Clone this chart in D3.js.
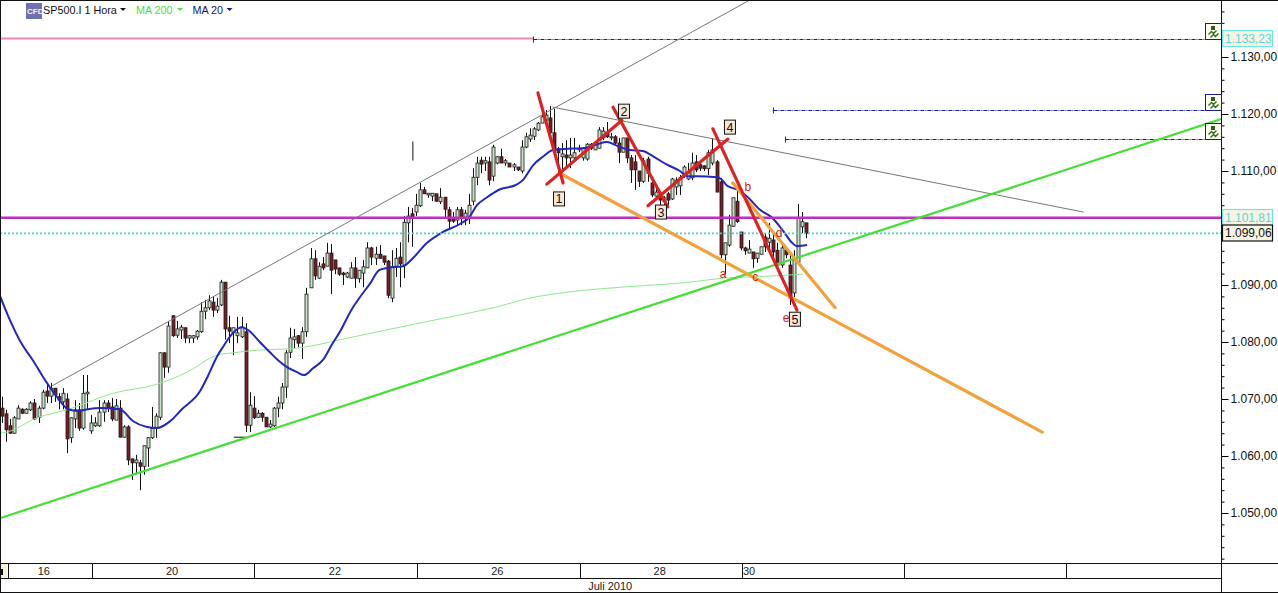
<!DOCTYPE html>
<html><head><meta charset="utf-8">
<script src="https://cdn.jsdelivr.net/npm/d3@7"></script>
<style>
html,body{margin:0;padding:0;background:#fff;overflow:hidden}
svg{display:block}
text{font-family:"Liberation Sans",Arial,sans-serif}
</style></head><body><div id="c"></div>
<script>
// ---------- data: hourly candles ----------
const opens=[
1068.4,1067.4,1065.3,1064,1066.5,1068.2,1067.5,1068.1,1069.3,1066.8,
1068.4,1071.4,1070.5,1071.9,1070.4,1069.5,1070,1063.2,1066.5,1068.1,
1064.9,1070.9,1064.4,1065.3,1065.3,1067.7,1069.3,1068.6,1066.3,1068.4,
1063.3,1065.1,1059.5,1058.8,1058.8,1058.2,1061.4,1063.2,1064.9,1066.8,
1078.1,1075.6,1084.6,1081.2,1082.1,1082.5,1080.7,1080.7,1080.9,1081.8,
1085.4,1086,1087,1085.6,1086.5,1090.5,1082.5,1081.6,1081.1,1080.9,
1081.8,1065.4,1068.4,1066.8,1067.5,1066.8,1065.1,1065.3,1068.4,1069.3,
1072.1,1078.2,1080.4,1081.1,1079.8,1081.8,1089.5,1094.6,1091.2,1093.7,
1093.3,1095.6,1094.4,1093,1092.1,1091.4,1091.2,1093,1091.1,1092.1,
1093,1096.5,1094.7,1095.4,1095.1,1094.2,1087.7,1093.3,1094.9,1093.5,
1100.9,1102.5,1102.8,1103.9,1106.7,1105.8,1105.6,1106,1104.6,1105.4,
1103.2,1101.8,1101.4,1103.2,1101.9,1101.8,1104.7,1108.9,1111.9,1111.4,
1111.6,1109.1,1111.4,1112.5,1111.4,1111.4,1110.7,1110.7,1110,1114.2,
1115.6,1116.1,1117.2,1118.4,1118.9,1119.3,1116.7,1113.9,1112.5,1112.8,
1112.3,1112.3,1113.7,1112.3,1112.1,1114.7,1113.7,1114,1115.8,1116.7,
1115.8,1116,1114.9,1113.3,1115.8,1112.3,1111.6,1110,1108.2,1112.1,
1107.9,1105.6,1105.8,1104.6,1106,1105.1,1107.2,1107.4,1109.6,1108.6,
1108.8,1111.6,1111.1,1110.9,1110.4,1111.4,1111.6,1108.1,1095.3,1097,
1100.3,1104.7,1099.3,1096.5,1095.6,1095.8,1094.7,1095.4,1098.4,1097.5,
1097.9,1096.1,1093.5,1096.1,1093.5,1088.6,1094,1100.2,1100.9];
const closes=[
1067,1064.6,1064,1066.7,1068.4,1067.5,1068.2,1069.3,1066.5,1068.4,
1071.2,1070.5,1071.9,1070.7,1069.8,1071,1063,1066.7,1068.1,1064.9,
1071,1071.2,1065.8,1065.8,1067.7,1069.3,1068.4,1066.5,1068.8,1063.3,
1065.1,1059.3,1058.8,1059.3,1058.2,1061.8,1063.2,1064.9,1067,1078.1,
1075.6,1082.8,1081.1,1082.3,1082.6,1080.7,1081.1,1081.1,1081.9,1085.4,
1086,1087.2,1085.6,1086.3,1090.5,1082.3,1081.9,1082.5,1081.6,1082.6,
1065.4,1068.9,1066.7,1067.5,1066.8,1065.1,1065.6,1068.4,1069.3,1072.1,
1078.1,1080.7,1080.9,1079.8,1081.8,1088.4,1094.6,1091.6,1093.3,1093,
1095.6,1092.6,1092.8,1091.9,1091.8,1092.1,1093,1091.2,1092.6,1093.2,
1096.5,1094.9,1095.4,1094.7,1094,1088.2,1093.2,1094.7,1093.7,1101,
1102.1,1101.9,1104,1106.7,1106,1106.1,1106.1,1104.7,1105.4,1103.3,
1101.2,1101.2,1103.2,1101.8,1102.6,1104,1108.9,1111.4,1111.2,1111.8,
1108.4,1114.2,1112.5,1111.4,1111.8,1110.7,1111.1,1110.2,1114.2,1116,
1116.3,1117.4,1118.4,1119.5,1119.8,1116.7,1113.7,1113.2,1113,1112.3,
1112.8,1113.2,1114,1114,1114.7,1114,1114.6,1117.2,1117,1116,
1116,1114.9,1113.3,1115.8,1112.3,1110.2,1110.2,1108.2,1111.8,1109.6,
1105.8,1106.3,1104.9,1105.3,1104.9,1108.6,1108.4,1108.8,1110.7,1109.8,
1111.4,1110.2,1110.5,1110.4,1113.2,1113.7,1106.3,1095.3,1097.4,1100.5,
1105.3,1101.1,1096.5,1096,1096.3,1094.6,1095.6,1096.7,1096.7,1098.2,
1095.8,1093.5,1096.5,1095.3,1087.7,1094.4,1101.8,1101.1,1099.1];
const highs=[
1070.4,1068.1,1066.5,1067,1068.9,1068.4,1068.4,1069.6,1070,1068.8,
1071.6,1072.8,1072.8,1071.9,1071,1071.9,1071,1066.8,1069.8,1069.3,
1074.2,1074.2,1067.2,1066.8,1069.8,1069.8,1069.8,1070.2,1070,1069.8,
1065.4,1065.4,1059.5,1060.2,1059.3,1061.8,1063.3,1068.6,1067.5,1078.2,
1078.2,1083.7,1084.7,1083.7,1083,1082.5,1081.2,1081.2,1082.1,1087,
1087.4,1088.2,1087.9,1087.7,1090.9,1090.5,1084.6,1082.5,1084.4,1084.4,
1083.3,1071.2,1070.5,1068.1,1067.7,1066.8,1066.3,1068.6,1070.4,1072.8,
1078.6,1082.5,1082.3,1081.2,1082.6,1089.5,1096.5,1096.1,1094,1094.9,
1097.4,1097.2,1094.4,1093,1092.3,1092.3,1094,1094.9,1092.6,1094.4,
1097.5,1096.7,1096.7,1097,1095.1,1094.4,1096.1,1096.5,1097.5,1102.1,
1103.7,1103.5,1106,1107.9,1107.2,1106.1,1106.1,1106,1107,1105.4,
1103.7,1102.8,1103.7,1103.7,1103.2,1106,1110.5,1112.5,1112.5,1112.5,
1112.5,1114.6,1112.6,1113.9,1112.1,1111.4,1111.4,1110.7,1115.4,1116.7,
1117.5,1117.7,1118.6,1119.8,1120.7,1121.4,1120.9,1114.2,1114.9,1115.4,
1115.8,1115.8,1114.6,1114.2,1114.9,1114.9,1114.6,1117.7,1117.7,1118.6,
1116.7,1116.3,1115.8,1115.8,1115.8,1112.8,1112.8,1109.8,1112.3,1112.5,
1108.4,1107.5,1106.3,1105.6,1106.3,1108.8,1108.9,1109.3,1111,1111.4,
1113.2,1112.8,1111.4,1111,1113.7,1115.8,1111.9,1108.8,1097.4,1102.3,
1105.3,1106.7,1099.3,1096.7,1097.9,1095.8,1095.6,1096.7,1099.1,1100.9,
1099.1,1097.4,1097.4,1096.7,1095.3,1096.1,1104.2,1102.8,1100.9];
const lows=[
1065.8,1062.5,1063.9,1063.9,1066.5,1067.4,1067.5,1067.9,1066.3,1065.8,
1068.2,1069.3,1069.3,1069.5,1068.2,1068.2,1060.5,1062.3,1064.9,1064.4,
1064.6,1068.2,1063.9,1065.1,1065.1,1066,1067.7,1066.1,1066.3,1063.3,
1063.2,1058.4,1055.8,1057,1054,1056.7,1058.1,1063,1063.2,1066.3,
1073.7,1074.6,1080.9,1080.7,1080.5,1079.8,1079.8,1079.8,1080.4,1081.6,
1084,1085.6,1084.4,1085.1,1086.3,1080.4,1079.8,1077.7,1079.8,1080.7,
1064.2,1064.2,1066.5,1066.7,1066,1065.1,1064.9,1065.1,1066.8,1068.2,
1070.2,1077.2,1078.9,1079.1,1077,1080.9,1089.5,1090.9,1091.1,1092.6,
1093.3,1088.4,1091.9,1091.6,1090,1091.2,1091.2,1089.5,1090.4,1089.6,
1093,1093.5,1093.5,1094.6,1093.5,1087.7,1087,1091.4,1089.6,1091.2,
1097.5,1096.7,1102.1,1103.7,1106,1105.3,1104.7,1104.6,1104.2,1101.9,
1099.8,1100.9,1100.5,1100.5,1100.5,1100.7,1104,1107.5,1109.6,1110,
1107.5,1108.2,1111.2,1111.4,1110.9,1110.7,1110,1110,1109.6,1114,
1115.1,1115.4,1117,1118.4,1118.6,1116.5,1113.3,1109.3,1110.2,1110.7,
1110.5,1111.9,1113.3,1111.8,1111.8,1113.7,1113.7,1114,1115.4,1115.8,
1115.4,1114.6,1111.4,1113.3,1111.4,1107.9,1106.7,1107.2,1107.9,1108.1,
1105.4,1105.3,1104,1104,1104,1104.9,1105.8,1105.8,1108.8,1108.4,
1108.4,1109.8,1110,1110,1109.3,1111,1106.3,1094.7,1091.8,1096.7,
1100.2,1100.9,1096.1,1095.3,1095.6,1093,1093.9,1095.3,1095.8,1096.5,
1094.9,1093,1093,1094.7,1086.5,1087.9,1093.9,1099.1,1098.2];

const ma20Pos=[-0.5,1.5,5,7.6,10,13.5,16.3,18.7,21.2,24.1,29,32.3,35.7,38.2,41.4,44.3,48.8,50.7,53,54.4,56.9,59.1,60.6,63.5,66,68,70.2,72.7,74.4,76.6,79,81.3,83.3,86.2,88.2,90.6,92.9,94.8,98.8,101.2,104.7,108.6,112.8,115,117,119.5,122.7,126.4,128.3,130.8,133.2,135.7,139.2,143.1,146.6,149,151.5,154.7,157.9,160.3,163.8,167,168.7,171.2,176.1,177.1,178.6,180,181.3,183.7,186.7,189.7,192.4,194.6,195.8,198.3];
const ma20Val=[1088.1,1084.6,1079.5,1076.8,1074,1070.4,1068.2,1067.9,1068.2,1068.4,1068.2,1066.1,1065.1,1064.9,1066.1,1068.2,1071.4,1074,1077.5,1079.1,1081.6,1082.6,1082.1,1080,1078.2,1076.8,1075.6,1074.7,1074.2,1075.4,1076.8,1079.6,1081.9,1085.8,1087.9,1090.2,1092.6,1093,1093.3,1094.7,1097.4,1099.3,1100.7,1101.8,1104,1105.4,1106.8,1107.5,1108.4,1111,1112.5,1113.7,1113.9,1114,1114.7,1115.1,1114.4,1113.7,1113.5,1112.6,1111.1,1110,1109.1,1109.1,1108.9,1108.6,1107.4,1107,1106.7,1105.4,1103.2,1101.8,1099.5,1097.4,1096.8,1097];
const ma200Pos=[-0.5,1.2,8.6,16,27.3,38.2,45.6,53,56.9,63.5,70.9,77.6,83.3,98,110.3,121,130,139.9,152.2,169.5,177.6,184.2,197.3];
const ma200Val=[1064,1064.2,1066.7,1068.1,1071,1072.6,1074.7,1077.7,1078.1,1078.6,1078.8,1079.5,1080.4,1082.6,1084.4,1086,1087.7,1088.8,1089.6,1090.5,1091.2,1091.4,1091.9];

// horizontal levels
const pinkLevel=1133.23, magentaLevel=1101.81, cyanLevel=1099.06;
const orderLevels=[1133.23,1120.7,1115.6];
const orderStarts=[130.9,190,193];
const orderEnd=296.3;

// drawn trend lines: [pos, price, pos, price]
const grayLines=[[12.3,1072.3,184.7,1140.2],[135.7,1121.2,266.3,1102.8]];
const greenLines=[[-0.5,1049.1,300.3,1119.1]];
const orangeLines=[[137.4,1109.6,256.2,1064.2],[180,1107.9,205.2,1086]];
const redLines=[[132,1123.7,138.2,1107.9],[134.2,1107.7,152.7,1118.9],[150.5,1121.2,164,1103.7],[159.1,1103.9,178.8,1115.6],[175.1,1117.4,195.8,1085.6]];
const blackLines=[[101.2,1115.1,101.2,1111.9],[57.2,1063.3,60,1063.3]];

// wave labels
const waveText=["1","2","3","4","5"];
const wavePos=[137.2,153.2,162.3,179.3,195.3];
const waveVal=[1105.1,1120.5,1102.8,1117.7,1084];
const subText=["a","b","c","d","e"];
const subPos=[177.6,183.7,185.5,191.4,193.1];
const subVal=[1091.9,1107.2,1091.4,1099.1,1084.2];

// axes
const yMajor=[1130,1120,1110,1100,1090,1080,1070,1060,1050];
const yShown=[1130,1120,1110,1090,1080,1070,1060,1050];
const timeBreaks=[1.5,22.2,62.1,102.2,142.4,182.3,222.2,262];
const dayLabels=["16","20","22","26","28","30"];
const dayPos=[10.3,41.9,82,122,162,184];
const monthLabel="Juli 2010", monthPos=149.8;

// ---------- layout ----------
const W=1278,H=593,plotR=1221,plotB=563,axisB2=578;
const x=d3.scaleLinear().domain([0,198]).range([2,2+198*4.06]);
const y=d3.scaleLinear().domain([1130,1050]).range([57,513]);
const fmt=d3.formatLocale({decimal:",",thousands:".",grouping:[3],currency:["","€"]}).format(",.2f");

const svg=d3.select("#c").append("svg").attr("width",W).attr("height",H).attr("viewBox",[0,0,W,H]);
svg.append("rect").attr("width",W).attr("height",H).attr("fill","#fff");
svg.append("defs").append("clipPath").attr("id","plot").append("rect").attr("x",1).attr("y",1).attr("width",plotR-1).attr("height",plotB-1);
const g=svg.append("g").attr("clip-path","url(#plot)");

const seg=(sel,data,color,w,dash)=>sel.selectAll(null).data(data).join("line")
  .attr("x1",d=>x(d[0])).attr("y1",d=>y(d[1])).attr("x2",d=>x(d[2])).attr("y2",d=>y(d[3]))
  .attr("stroke",color).attr("stroke-width",w).attr("stroke-dasharray",dash||null).attr("stroke-linecap","round");

// horizontal levels under candles
g.append("line").attr("x1",0).attr("x2",x(orderStarts[0])).attr("y1",y(pinkLevel)).attr("y2",y(pinkLevel)).attr("stroke","#ee88bb").attr("stroke-width",2);

// candles
const idx=d3.range(opens.length);
const cg=g.append("g");
cg.selectAll("line.w").data(idx).join("line").attr("class","w")
  .attr("x1",i=>Math.round(x(i))+.5).attr("x2",i=>Math.round(x(i))+.5)
  .attr("y1",i=>y(highs[i])).attr("y2",i=>y(lows[i])).attr("stroke","#111").attr("stroke-width",1);
cg.selectAll("rect").data(idx).join("rect")
  .attr("x",i=>Math.round(x(i))-1).attr("width",3)
  .attr("y",i=>y(Math.max(opens[i],closes[i])))
  .attr("height",i=>Math.max(1,Math.abs(y(opens[i])-y(closes[i]))))
  .attr("fill",i=>closes[i]>=opens[i]?"#c9e3c6":"#7d1c22")
  .attr("stroke","#1a1a1a").attr("stroke-width",.8);

// moving averages
const lineGen=d3.line().x(d=>x(d[0])).y(d=>y(d[1])).curve(d3.curveMonotoneX);
g.append("path").attr("d",lineGen(d3.zip(ma200Pos,ma200Val))).attr("fill","none").attr("stroke","#8fe88f").attr("stroke-width",1);
g.append("path").attr("d",lineGen(d3.zip(ma20Pos,ma20Val))).attr("fill","none").attr("stroke","#2028c0").attr("stroke-width",2);

// levels over the candles
g.append("line").attr("x1",0).attr("x2",plotR).attr("y1",y(magentaLevel)).attr("y2",y(magentaLevel)).attr("stroke","#bf2fbf").attr("stroke-width",2.4);
g.append("line").attr("x1",0).attr("x2",plotR).attr("y1",y(cyanLevel)).attr("y2",y(cyanLevel)).attr("stroke","#3fd2d2").attr("stroke-width",1.6).attr("stroke-dasharray","2 2");
orderLevels.forEach((v,k)=>{
  const yy=Math.round(y(v))+.5;
  g.append("line").attr("x1",x(orderStarts[k])).attr("x2",x(orderEnd)).attr("y1",yy).attr("y2",yy).attr("stroke","#1c1c90").attr("stroke-width",1.1).attr("stroke-dasharray","4 1 1 1");
  g.append("line").attr("x1",x(orderStarts[k])).attr("x2",x(orderStarts[k])).attr("y1",yy-3).attr("y2",yy+3).attr("stroke","#1c1c90");
});

// trend lines
seg(g,grayLines,"#777",1);
seg(g,blackLines,"#111",1);
seg(g,greenLines,"#46df38",2.2);
seg(g,orangeLines,"#f2a23c",3.2);
seg(g,redLines,"#dd2222",3.2);

// wave labels
const wave=g.selectAll("g.wave").data(waveText).join("g").attr("class","wave")
  .attr("transform",(d,i)=>`translate(${x(wavePos[i])},${y(waveVal[i])})`);
wave.append("rect").attr("x",-5.5).attr("y",-7).attr("width",11).attr("height",14).attr("fill","#fbe8d4").attr("stroke","#111");
wave.append("text").text(d=>d).attr("text-anchor","middle").attr("y",4.5).attr("font-size",12.5).attr("fill","#111");
g.selectAll("text.sub").data(subText).join("text").attr("class","sub").text(d=>d)
  .attr("x",(d,i)=>x(subPos[i])).attr("y",(d,i)=>y(subVal[i])+4).attr("text-anchor","middle").attr("font-size",12).attr("fill","#d42020");

// right axis
const ax=svg.append("g").attr("transform",`translate(${plotR+.5},0)`);
const minor=d3.range(1040,1142,2).filter(v=>y(v)<plotB);
ax.call(d3.axisRight(y).tickValues(minor).tickSize(3).tickFormat(""));
const ax2=svg.append("g").attr("transform",`translate(${plotR+.5},0)`)
  .call(d3.axisRight(y).tickValues(yMajor).tickSize(7).tickPadding(2).tickFormat(d=>yShown.includes(d)?fmt(d):""));
ax2.selectAll("text").attr("font-size",12).attr("fill","#111").style("font-family",'"Liberation Sans",Arial,sans-serif');
svg.selectAll(".domain").remove();
svg.append("line").attr("x1",plotR+.5).attr("x2",plotR+.5).attr("y1",0).attr("y2",H).attr("stroke","#111");

// price tags
const tagVals=[pinkLevel,magentaLevel,cyanLevel];
const tagStroke=["#6ee6e6","#6ee6e6","#111"];
const tagText=["#58d8d8","#58d8d8","#111"];
tagVals.forEach((v,k)=>{
  const yy=y(v);
  svg.append("rect").attr("x",plotR+1.5).attr("y",Math.round(yy)-8.5+(k==2?.5:0)).attr("width",50).attr("height",16).attr("fill","#f7f4e4").attr("stroke",tagStroke[k]).attr("stroke-width",1.2);
  svg.append("text").attr("x",plotR+4).attr("y",Math.round(yy)+4).text(fmt(v)).attr("font-size",12).attr("fill",tagText[k]);
});

// order icons
orderLevels.forEach(v=>{
  const b=Math.round(y(v))+.5;
  const ic=svg.append("g").attr("transform",`translate(1205.5,${b-16})`);
  ic.append("rect").attr("width",16).attr("height",16).attr("fill","#fbfbee").attr("stroke","#1c1c80");
  ic.append("rect").attr("x",5.5).attr("y",2.5).attr("width",4).attr("height",4).attr("fill","#2f5f20");
  ic.append("path").attr("d","M3 11 L6 8 L8 10 L11 7 M5 14 L8 11 L10 13 L13 10").attr("fill","none").attr("stroke","#2f6f20").attr("stroke-width",1.4);
});

// time axis
const bar=(x1,x2,yy)=>svg.append("line").attr("x1",x1).attr("x2",x2).attr("y1",yy).attr("y2",yy).attr("stroke","#111");
bar(0,W,.5); bar(0,W,plotB+.5); bar(0,plotR,axisB2+.5); bar(0,W,H-.5);
svg.append("line").attr("x1",.5).attr("x2",.5).attr("y1",0).attr("y2",H).attr("stroke","#111");
svg.append("rect").attr("x",1).attr("y",plotB+1).attr("width",6).attr("height",14).attr("fill","#f4f2df");
svg.append("rect").attr("x",1).attr("y",plotB+6).attr("width",2).attr("height",6).attr("fill","#111");
svg.selectAll("line.brk").data(timeBreaks).join("line").attr("class","brk")
  .attr("x1",d=>Math.round(x(d))+.5).attr("x2",d=>Math.round(x(d))+.5).attr("y1",plotB).attr("y2",axisB2).attr("stroke","#111");
svg.selectAll("text.day").data(dayLabels).join("text").attr("class","day").text(d=>d)
  .attr("x",(d,i)=>x(dayPos[i])).attr("y",575).attr("text-anchor","middle").attr("font-size",11).attr("fill","#222");
svg.append("text").text(monthLabel).attr("x",x(monthPos)).attr("y",590).attr("text-anchor","middle").attr("font-size",11).attr("fill","#222");

// header
const hd=svg.append("g");
hd.append("rect").attr("x",26).attr("y",3).attr("width",16).attr("height",16).attr("fill","#6f70b0");
hd.append("text").text("CFD").attr("x",27).attr("y",14).attr("font-size",8).attr("font-weight","bold").attr("fill","#f4f4ff");
hd.append("text").text("SP500.I 1 Hora").attr("x",43).attr("y",14).attr("font-size",10.8).attr("fill","#111");
hd.append("text").text("MA 200").attr("x",136).attr("y",14).attr("font-size",10.8).attr("fill","#48e048");
hd.append("text").text("MA 20").attr("x",192.5).attr("y",14).attr("font-size",10.8).attr("fill","#14147a");
const tri=(cx,c)=>hd.append("path").attr("d",`M${cx-3} 8 L${cx+3} 8 L${cx} 11 Z`).attr("fill",c);
tri(123,"#111");tri(180,"#48e048");tri(229.5,"#1414a0");
</script></body></html>
